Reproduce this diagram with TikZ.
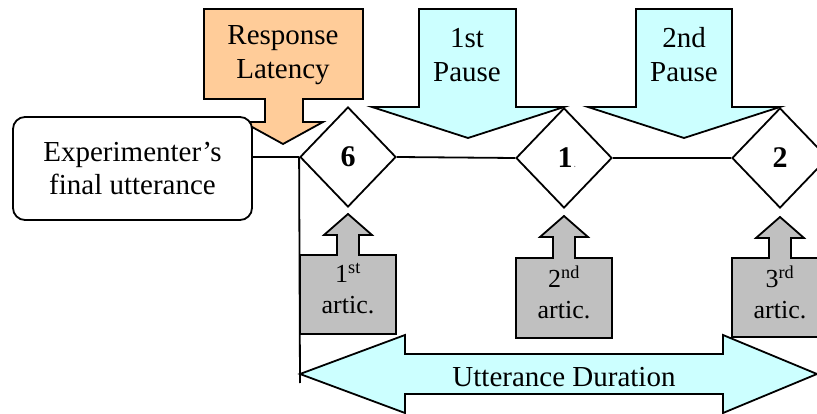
\documentclass[tikz,border=0pt]{standalone}
\usepackage{fontspec}
\setmainfont{Liberation Serif}
\usetikzlibrary{shapes.geometric}
\definecolor{orangefill}{HTML}{FFCC99}
\definecolor{cyanfill}{HTML}{CCFFFF}
\definecolor{grayfill}{HTML}{C0C0C0}
\begin{document}
\begin{tikzpicture}[x=1pt,y=-1pt, line width=1.8pt, line join=miter,
  lbl/.style={align=center, font=\fontsize{29}{34}\selectfont, inner sep=0pt},
  artlbl/.style={align=center, font=\fontsize{26}{31}\selectfont, inner sep=0pt},
  dia/.style={diamond, draw, fill=white, minimum width=96pt, minimum height=100pt, inner sep=0pt, font=\fontsize{30}{32}\selectfont\bfseries},
  orangearrow/.style={fill=orangefill, draw=black},
  cyanarrow/.style={fill=cyanfill, draw=black},
  grayarrow/.style={fill=grayfill, draw=black},
  wire/.style={draw=black, line width=1.8pt}]
\useasboundingbox (0,0) rectangle (817,414);

% pause arrows
\path[cyanarrow] (419,9)--(516,9)--(516,107)--(564,107)--(468,138)--(372,107)--(419,107)--cycle;
\node[lbl] (p1lab) at (467,55) {1st\\Pause};
\path[cyanarrow] (636,9)--(732,9)--(732,107)--(780,107)--(684,138)--(588,107)--(636,107)--cycle;
\node[lbl] (p2lab) at (684,55) {2nd\\Pause};

% response latency arrow
\path[orangearrow] (204,9)--(363,9)--(363,99)--(303,99)--(303,122)--(323,122)--(283,144)--(243,122)--(265,122)--(265,99)--(204,99)--cycle;
\node[lbl] (rlab) at (283,55) {Response\\Latency};

% experimenter box
\node[lbl, draw, fill=white, rounded corners=12pt, minimum width=239pt, minimum height=103pt] (exp) at (132.5,168.5) {Experimenter’s\\final utterance};

% diamonds
\node[dia] (d6) at (348,157) {6};
\node[dia] (d1) at (564,158) {\hspace*{2pt}1\rlap{\fontsize{8}{8}\selectfont\color{gray}\,.}};
\node[dia] (d2) at (780,158) {2};
\coordinate (vend) at (300,383);

% connectors
\draw[wire] (d6.west -| exp.east) -- (d6.west);
\draw[wire] (d6.east) -- (d1.west);
\draw[wire] (d1.east) -- (d2.west);
\draw[wire] (d6.west) -- (vend);

% articulation arrows
\path[grayarrow] (300,334)--(300,255)--(337,255)--(337,235)--(324,235)--(348,214)--(372,235)--(359,235)--(359,255)--(396,255)--(396,334)--cycle;
\node[artlbl] (a1lab) at (348,289) {1\textsuperscript{st}\\artic.};
\path[grayarrow] (516,338)--(516,258)--(553,258)--(553,237)--(540,237)--(564,216)--(588,237)--(575,237)--(575,258)--(612,258)--(612,338)--cycle;
\node[artlbl] (a2lab) at (564,292) {2\textsuperscript{nd}\\artic.};
\path[grayarrow] (732,337)--(732,258)--(769,258)--(769,238)--(756,238)--(780,217)--(804,238)--(791,238)--(791,258)--(828,258)--(828,337)--cycle;
\node[artlbl] (a3lab) at (780,292) {3\textsuperscript{rd}\\artic.};

% utterance duration
\path[cyanarrow] (300,374)--(405,335)--(405,354)--(723,354)--(723,335)--(817,374)--(723,413)--(723,394)--(405,394)--(405,413)--cycle;
\node[lbl] (udlab) at (564,377) {Utterance Duration};
\end{tikzpicture}
\end{document}
